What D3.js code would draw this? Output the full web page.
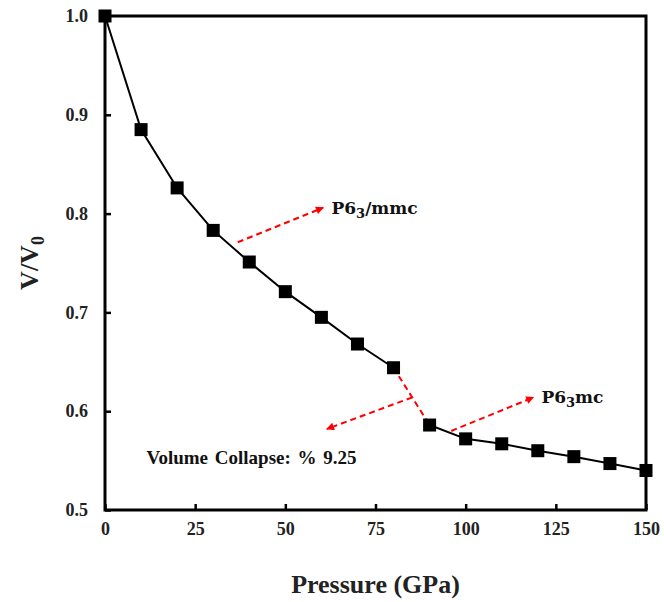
<!DOCTYPE html>
<html>
<head>
<meta charset="utf-8">
<script src="https://cdn.jsdelivr.net/npm/d3@7"></script>
<style>
  body { margin: 0; background: #fff; }
  text { font-family: "Liberation Serif", "Times New Roman", serif; font-weight: bold; }
</style>
</head>
<body>
<div id="chart"></div>
<script>
// Data
const pressure = [0, 10, 20, 30, 40, 50, 60, 70, 80, 90, 100, 110, 120, 130, 140, 150];
const volumeRatio = [1.0, 0.885, 0.826, 0.783, 0.751, 0.721, 0.695, 0.668, 0.644, 0.586, 0.572, 0.567, 0.560, 0.554, 0.547, 0.540];
const xTicks = [0, 25, 50, 75, 100, 125, 150];
const yTicks = [0.5, 0.6, 0.7, 0.8, 0.9, 1.0];
const collapseIndex = 8; // segment 80 -> 90 GPa is the phase transition

// annotations: arrow start/end in data units, label anchor
const arrows = [
  { from: [36.8, 0.771], to: [60.5, 0.806] },
  { from: [96.0, 0.580], to: [118.8, 0.614] },
  { from: [85.2, 0.614], to: [61.5, 0.582] }
];
const labels = [
  { x: 62.8, y: 0.806, text: "P6", sub: "3", rest: "/mmc" },
  { x: 121.0, y: 0.614, text: "P6", sub: "3", rest: "mc" },
  { x: 11.5, y: 0.553, text: "Volume Collapse: % 9.25" }
];

const margin = { top: 16, right: 18, bottom: 92, left: 105 };
const width = 664 - margin.left - margin.right;
const height = 602 - margin.top - margin.bottom;

const svg = d3.select("#chart").append("svg")
    .attr("width", 664)
    .attr("height", 602)
    .append("g")
    .attr("transform", "translate(" + margin.left + "," + margin.top + ")");

const x = d3.scaleLinear().domain([0, 150]).range([0, width]);
const y = d3.scaleLinear().domain([0.5, 1.0]).range([height, 0]);

// arrowhead marker
svg.append("defs").append("marker")
    .attr("id", "arrowhead")
    .attr("viewBox", "0 0 10 10")
    .attr("refX", 9)
    .attr("refY", 5)
    .attr("markerWidth", 9)
    .attr("markerHeight", 8)
    .attr("markerUnits", "userSpaceOnUse")
    .attr("orient", "auto")
    .append("path")
    .attr("d", "M0,0 L10,5 L0,10 Z")
    .attr("fill", "red");

// frame
svg.append("rect")
    .attr("width", width)
    .attr("height", height)
    .attr("fill", "none")
    .attr("stroke", "black")
    .attr("stroke-width", 3);

// axes with inward ticks
const xAxis = svg.append("g")
    .attr("transform", "translate(0," + height + ")")
    .call(d3.axisBottom(x).tickValues(xTicks).tickSize(-6).tickPadding(12).tickFormat(d3.format("d")));
const yAxis = svg.append("g")
    .call(d3.axisLeft(y).tickValues(yTicks).tickSize(-6).tickPadding(17).tickFormat(d3.format(".1f")));

[xAxis, yAxis].forEach(function (g) {
    g.select(".domain").remove();
    g.selectAll(".tick line").attr("stroke", "black").attr("stroke-width", 2.5);
    g.selectAll(".tick text")
        .style("font-family", "'Liberation Serif', serif")
        .style("font-weight", "bold")
        .style("font-size", "18px")
        .attr("fill", "#222");
});

// data line, black except the collapse segment
const line = d3.line()
    .x(function (d) { return x(d[0]); })
    .y(function (d) { return y(d[1]); });
const pts = pressure.map(function (p, i) { return [p, volumeRatio[i]]; });

svg.append("path")
    .datum(pts.slice(0, collapseIndex + 1))
    .attr("d", line)
    .attr("fill", "none")
    .attr("stroke", "black")
    .attr("stroke-width", 2);
svg.append("path")
    .datum(pts.slice(collapseIndex + 1))
    .attr("d", line)
    .attr("fill", "none")
    .attr("stroke", "black")
    .attr("stroke-width", 2);
svg.append("path")
    .datum(pts.slice(collapseIndex, collapseIndex + 2))
    .attr("d", line)
    .attr("fill", "none")
    .attr("stroke", "red")
    .attr("stroke-width", 2)
    .attr("stroke-dasharray", "6,4");

// square markers
svg.selectAll(".pt")
    .data(pts)
    .enter().append("rect")
    .attr("class", "pt")
    .attr("x", function (d) { return x(d[0]) - 6.5; })
    .attr("y", function (d) { return y(d[1]) - 6.5; })
    .attr("width", 13)
    .attr("height", 13)
    .attr("fill", "black");

// annotation arrows
svg.selectAll(".arrow")
    .data(arrows)
    .enter().append("line")
    .attr("class", "arrow")
    .attr("x1", function (d) { return x(d.from[0]); })
    .attr("y1", function (d) { return y(d.from[1]); })
    .attr("x2", function (d) { return x(d.to[0]); })
    .attr("y2", function (d) { return y(d.to[1]); })
    .attr("stroke", "red")
    .attr("stroke-width", 2)
    .attr("stroke-dasharray", "6,4")
    .attr("marker-end", "url(#arrowhead)");

// annotation labels
labels.forEach(function (l) {
    const t = svg.append("text")
        .attr("x", x(l.x))
        .attr("y", y(l.y))
        .attr("dy", "0.35em")
        .attr("fill", "#111");
    if (l.sub) {
        t.style("font-family", "'DejaVu Serif', serif").style("font-size", "17px");
        t.append("tspan").text(l.text);
        t.append("tspan").attr("dy", "4").style("font-size", "13px").text(l.sub);
        t.append("tspan").attr("dy", "-4").text(l.rest);
    } else {
        t.style("font-size", "19px").style("word-spacing", "2px").text(l.text);
    }
});

// axis titles
svg.append("text")
    .attr("x", width / 2)
    .attr("y", height + 83)
    .attr("text-anchor", "middle")
    .style("font-size", "26px")
    .attr("fill", "#222")
    .text("Pressure (GPa)");

const yTitle = svg.append("text")
    .attr("transform", "rotate(-90)")
    .attr("x", -(y(0.75)))
    .attr("y", -67)
    .attr("text-anchor", "middle")
    .style("font-size", "26px")
    .attr("fill", "#222");
yTitle.append("tspan").text("V/V");
yTitle.append("tspan").attr("dy", "6").style("font-size", "18px").text("0");
</script>
</body>
</html>
